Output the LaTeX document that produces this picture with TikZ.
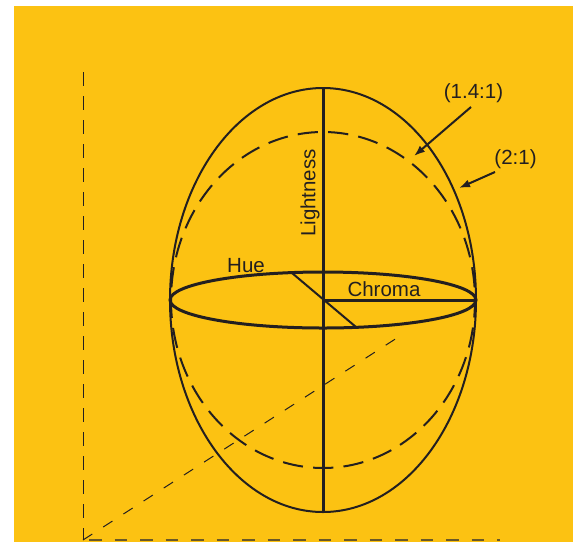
\documentclass[tikz,border=0pt]{standalone}
\usepackage{fontspec}
\setmainfont{Liberation Sans}
\usetikzlibrary{arrows.meta}
\definecolor{bgyellow}{RGB}{252,194,18}
\definecolor{ink}{RGB}{35,31,32}
\definecolor{inkgray}{RGB}{105,88,40}
\begin{document}
\begin{tikzpicture}[x=1pt,y=-1pt,
  lbl/.style={font=\fontsize{20.5}{24}\selectfont, text=ink, inner sep=0pt},
  outline/.style={draw=ink, line width=2pt},
  thickline/.style={draw=ink, line width=3pt},
  dashell/.style={draw=ink, line width=2pt, dash pattern=on 20.3pt off 10.2pt, dash phase=17.9pt},
  thindash/.style={draw=ink, line width=1pt, dash pattern=on 14pt off 10pt},
  diagdash/.style={draw=ink, line width=1pt, dash pattern=on 11pt off 13pt},
  basedash/.style={draw=inkgray, line width=2pt, dash pattern=on 12.5pt off 13pt},
  arrowline/.style={draw=ink, line width=2pt, -{Latex[length=11pt,width=8pt]}}]
\useasboundingbox (0,0) rectangle (573,542);
\fill[bgyellow] (14,6) rectangle (573,542);

% named points
\coordinate (C) at (323,300);
\coordinate (top) at (323,88);
\coordinate (bot) at (323,512);
\coordinate (R) at (476,300);
\coordinate (hueA) at (292,273);
\coordinate (hueB) at (356,327);
\coordinate (O) at (83,540);
\coordinate (vtop) at (83,72);
\coordinate (hend) at (500,540);
\coordinate (dend) at (400,336);
\coordinate (a1s) at (471,107);
\coordinate (a1e) at (414,156);
\coordinate (a2s) at (495,172);
\coordinate (a2e) at (459,188);

% reference axes (dashed)
\draw[thindash] (vtop) -- (O);
\draw[basedash] ([xshift=6pt]O) -- (hend);
\draw[diagdash] (O) -- (dend);

% ellipsoids
\draw[outline] (C) ellipse [x radius=153pt, y radius=212pt];
\draw[dashell] (C) ellipse [x radius=152pt, y radius=168pt];

% hue circle
\draw[thickline] (C) ellipse [x radius=153pt, y radius=28pt];

% axes
\draw[thickline] (top) -- (bot);
\draw[thickline] (C) -- (R);
\draw[outline] (hueA) -- (hueB);

% labels
\node[lbl, anchor=base] (hue) at (246,272) {Hue};
\node[lbl, anchor=base] (chroma) at (384,296) {Chroma};
\node[lbl, rotate=90] (light) at (310,193) {Lightness};
\node[lbl, anchor=base] (l14) at (473.5,98.7) {(1.4:1)};
\node[lbl, anchor=base] (l21) at (515.5,164.7) {(2:1)};

% pointer arrows
\draw[arrowline] (a1s) -- (a1e);
\draw[arrowline] (a2s) -- (a2e);
\end{tikzpicture}
\end{document}
